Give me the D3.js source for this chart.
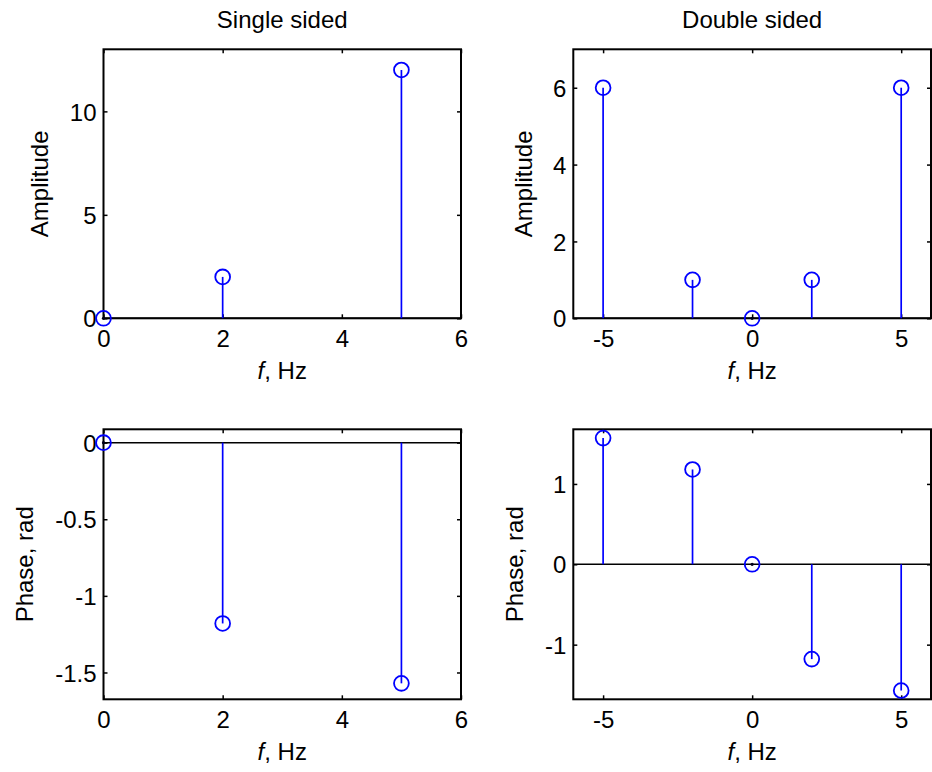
<!DOCTYPE html>
<html>
<head>
<meta charset="utf-8">
<script src="https://cdn.jsdelivr.net/npm/d3@7"></script>
<style>
  html, body { margin: 0; padding: 0; background: #fff; }
  svg { display: block; font-family: "Liberation Sans", Arial, Helvetica, sans-serif; }
</style>
</head>
<body>
<svg id="chart" width="932" height="772"></svg>
<script>
// ---- data ----
const freqSingle = [0, 2, 5];
const ampSingle = [0, 2, 12];
const phaseSingle = [0, -1.18, -1.5708];

const freqDouble = [-5, -2, 0, 2, 5];
const ampDouble = [6, 1, 0, 1, 6];
const phaseDouble = [1.5708, 1.18, 0, -1.18, -1.5708];

const xTicksSingle = [0, 2, 4, 6];
const xTicksDouble = [-5, 0, 5];
const yTicksAmpSingle = [0, 5, 10];
const yTicksAmpDouble = [0, 2, 4, 6];
const yTicksPhaseSingle = [0, -0.5, -1, -1.5];
const yTicksPhaseDouble = [-1, 0, 1];

const titles = ["Single sided", "Double sided"];
const xLabel = "Hz";
const yLabelAmp = "Amplitude";
const yLabelPhase = "Phase, rad";

// ---- layout ----
const svg = d3.select("#chart");
const colX = [[103.5, 461], [573.3, 931]];
const rowY = [[49.3, 318.3], [429.3, 699.3]];
const blue = "#0000ff";
const fs = 24;
const fmt = d => String(d); // plain hyphen-minus like the reference

const panels = [
  { col: 0, row: 0, f: freqSingle, v: ampSingle, xd: [0, 6], yd: [0, 13], xt: xTicksSingle, yt: yTicksAmpSingle, yl: yLabelAmp, ylOff: 55.5, title: titles[0] },
  { col: 1, row: 0, f: freqDouble, v: ampDouble, xd: [-6, 6], yd: [0, 7], xt: xTicksDouble, yt: yTicksAmpDouble, yl: yLabelAmp, ylOff: 41.6, title: titles[1] },
  { col: 0, row: 1, f: freqSingle, v: phaseSingle, xd: [0, 6], yd: [-1.675, 0.087], xt: xTicksSingle, yt: yTicksPhaseSingle, yl: yLabelPhase, ylOff: 70.5 },
  { col: 1, row: 1, f: freqDouble, v: phaseDouble, xd: [-6, 6], yd: [-1.68, 1.68], xt: xTicksDouble, yt: yTicksPhaseDouble, yl: yLabelPhase, ylOff: 50 }
];

panels.forEach(p => {
  const [x0, x1] = colX[p.col];
  const [y0, y1] = rowY[p.row];
  const x = d3.scaleLinear().domain(p.xd).range([x0, x1]);
  const y = d3.scaleLinear().domain(p.yd).range([y1, y0]);
  const g = svg.append("g");

  const tl = 4;
  const axB = g.append("g").attr("transform", `translate(0,${y1})`)
    .call(d3.axisBottom(x).tickValues(p.xt).tickSize(-tl).tickFormat(fmt));
  const axT = g.append("g").attr("transform", `translate(0,${y0})`)
    .call(d3.axisTop(x).tickValues(p.xt).tickSize(-tl).tickFormat(""));
  const axL = g.append("g").attr("transform", `translate(${x0},0)`)
    .call(d3.axisLeft(y).tickValues(p.yt).tickSize(-tl).tickPadding(7).tickFormat(fmt));
  const axR = g.append("g").attr("transform", `translate(${x1},0)`)
    .call(d3.axisRight(y).tickValues(p.yt).tickSize(-tl).tickFormat(""));
  [axB, axT, axL, axR].forEach(a => {
    a.select(".domain").remove();
    a.selectAll(".tick line").attr("stroke", "#000").attr("stroke-width", 1.5);
    a.selectAll(".tick text").attr("fill", "#000").style("font-size", fs + "px").style("font-family", "Liberation Sans, Arial, sans-serif");
  });
  axB.selectAll(".tick text").attr("dy", null).attr("y", 29);
  axL.selectAll(".tick text").attr("dy", "0.36em");

  // baseline at zero
  g.append("line")
    .attr("x1", x0).attr("x2", x1)
    .attr("y1", y(0)).attr("y2", y(0))
    .attr("stroke", "#000").attr("stroke-width", 1.5);

  // box
  g.append("rect")
    .attr("x", x0).attr("y", y0)
    .attr("width", x1 - x0).attr("height", y1 - y0)
    .attr("fill", "none").attr("stroke", "#000").attr("stroke-width", 2);

  const pts = p.f.map((f, i) => ({ f, v: p.v[i] }));

  // stems
  g.selectAll(".stem").data(pts.filter(d => d.v !== 0)).enter().append("line")
    .attr("x1", d => x(d.f)).attr("x2", d => x(d.f))
    .attr("y1", y(0)).attr("y2", d => y(d.v))
    .attr("stroke", blue).attr("stroke-width", 1.7);

  // zero-length stems show as a dot
  g.selectAll(".dot").data(pts.filter(d => d.v === 0)).enter().append("circle")
    .attr("cx", d => x(d.f)).attr("cy", d => y(d.v))
    .attr("r", 1.6).attr("fill", "#000018");

  // markers
  g.selectAll(".mk").data(pts).enter().append("circle")
    .attr("cx", d => x(d.f)).attr("cy", d => y(d.v))
    .attr("r", 7.4)
    .attr("fill", "none").attr("stroke", blue).attr("stroke-width", 1.8);

  // x label
  const xl = g.append("text")
    .attr("x", (x0 + x1) / 2).attr("y", y1 + 61)
    .attr("text-anchor", "middle")
    .style("font-size", fs + "px");
  xl.append("tspan").style("font-style", "italic").text("f");
  xl.append("tspan").text(", " + xLabel);

  // y label
  g.append("text")
    .attr("transform", `translate(${x0 - p.ylOff},${(y0 + y1) / 2}) rotate(-90)`)
    .attr("text-anchor", "middle")
    .style("font-size", fs + "px")
    .text(p.yl);

  // title
  if (p.title) {
    g.append("text")
      .attr("x", (x0 + x1) / 2).attr("y", 28)
      .attr("text-anchor", "middle")
      .style("font-size", fs + "px")
      .text(p.title);
  }
});
</script>
</body>
</html>
